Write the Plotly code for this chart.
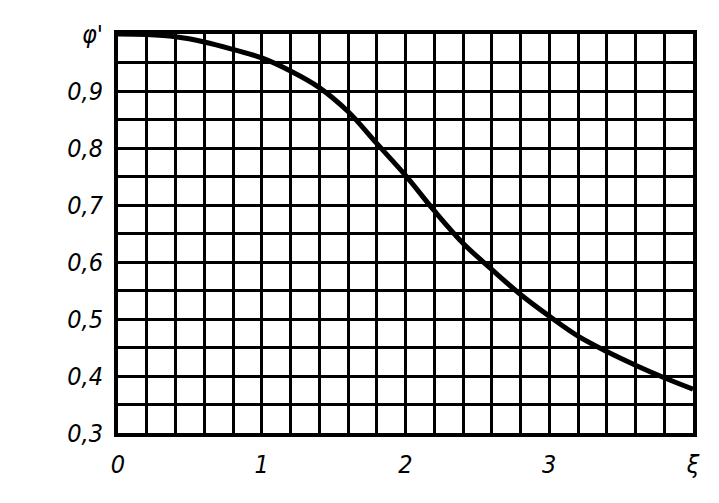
import plotly.graph_objects as go

xi = [0.0, 0.2, 0.4, 0.6, 0.8, 1.0, 1.2, 1.4, 1.6, 1.8, 2.0,
      2.2, 2.4, 2.6, 2.8, 3.0, 3.2, 3.4, 3.6, 3.8, 4.0]
phi = [1.000, 0.999, 0.995, 0.986, 0.973, 0.958, 0.935, 0.906, 0.864, 0.808, 0.752,
       0.690, 0.633, 0.587, 0.543, 0.505, 0.470, 0.443, 0.419, 0.397, 0.377]

x_tickvals = [0, 1, 2, 3, 4]
x_ticktext = ["0", "1", "2", "3", "ξ"]
y_tickvals = [0.3, 0.4, 0.5, 0.6, 0.7, 0.8, 0.9, 1.0]
y_ticktext = ["0,3", "0,4", "0,5", "0,6", "0,7", "0,8", "0,9", "φ'"]

fig = go.Figure()
fig.add_trace(go.Scatter(x=xi, y=phi, mode="lines",
                         line=dict(color="black", width=5, shape="spline", smoothing=1.0),
                         showlegend=False))

font = dict(family="DejaVu Sans Condensed, DejaVu Sans, Liberation Sans", size=25,
            color="black", style="italic")

fig.update_layout(
    width=719, height=503,
    margin=dict(l=110, r=34, t=24, b=78),
    paper_bgcolor="white", plot_bgcolor="white",
    xaxis=dict(range=[0, 4], tickvals=x_tickvals, ticktext=x_ticktext, tickfont=font,
               showgrid=True, gridcolor="black", gridwidth=2.5,
               minor=dict(dtick=0.2, showgrid=True, gridcolor="black", gridwidth=2.5),
               showline=True, linecolor="black", linewidth=4, mirror=True,
               zeroline=False, ticks="", ticklabelstandoff=6),
    yaxis=dict(range=[0.3, 1.0], tickvals=y_tickvals, ticktext=y_ticktext, tickfont=font,
               showgrid=True, gridcolor="black", gridwidth=2.5,
               minor=dict(dtick=0.05, showgrid=True, gridcolor="black", gridwidth=2.5),
               showline=True, linecolor="black", linewidth=4, mirror=True,
               zeroline=False, ticks="", ticklabelstandoff=6),
)

fig.write_html("out.html")
